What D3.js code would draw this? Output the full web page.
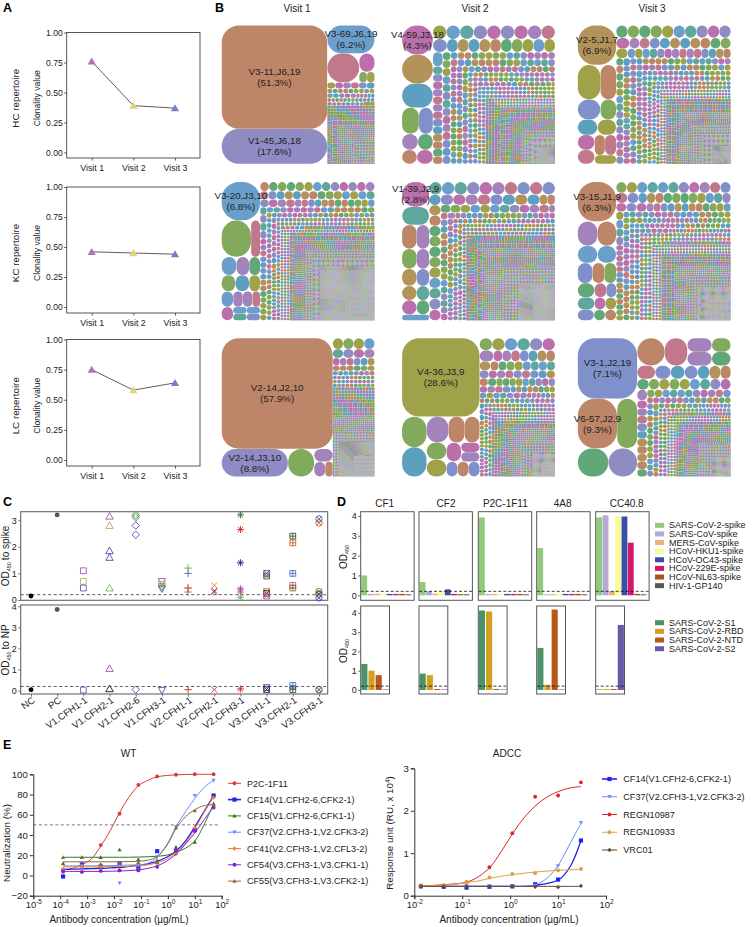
<!DOCTYPE html>
<html><head><meta charset="utf-8">
<script src="https://cdn.jsdelivr.net/npm/d3@7/dist/d3.min.js"></script>
<style>html,body{margin:0;padding:0;background:#fff}svg{display:block;font-family:"Liberation Sans",Arial,sans-serif}text{fill:#222}</style>
</head><body><svg id="c" width="755" height="927"></svg>
<script>
/* ---------- A ---------- */
const visits=["Visit 1","Visit 2","Visit 3"];
const hcClonality=[0.76,0.39,0.37];
const kcClonality=[0.46,0.45,0.44];
const lcClonality=[0.75,0.58,0.64];
const repertoireNames=["HC repertoire","KC repertoire","LC repertoire"];
const visitColors=["#BB6FB0","#E3D478","#6F80C8"];
const clonalityTicks=[0,0.25,0.5,0.75,1];
/* ---------- B : cell areas (px² on a 153×138.5 tile) ---------- */
const headV1HC=[[10918,3710],1316,[928,[285,[80,80]]]];
const tailV1HC=[[49,6],[25,14],[16,25],[9,70],[6.25,120],[4,220],[2.25,220]];
const headV2HC=[[899,899,744,[442,364],[256,240],[210,224]]];
const tailV2HC=[[182,10],[140,11],[72,13],[64,14],[49,30],[36,60],[25,80],[16,90],[9,150],[6.25,200],[4,200],[2.25,200],[1.5,250],[1,300]];
const headV3HC=[[1521,[782,544],[460,320],[300,285],[[255,238],[[209,228],192]]]];
const tailV3HC=[[130,11],[100,11],[64,14],[49,15],[36,65],[25,70],[16,90],[9,130],[6.25,200],[4,250],[2.25,300],[1.5,300],[1,308]];
const headV1KC=[[1482,[1073,333],[270,234,198],[224,224,176],[180,150,150,120],[156,[[91,91],[91,91]]]]];
const tailV1KC=[[76,13],[64,18],[49,16],[36,30],[25,50],[16,90],[9,150],[6.25,180],[4,300],[2.25,500],[1.5,500],[1,2000],[0.6,1400]];
const headV2KC=[[676,494,[350,300],[294,252],[252,216],[210,180],[210,180]]];
const tailV2KC=[[168,11],[126,10],[132,10],[81,13],[49,18],[36,30],[25,60],[16,100],[9,150],[6.25,200],[4,600],[2.25,700],[1,1400]];
const headV3KC=[[1521,[480,456],[340,323],[300,240,240],[238,168,140],[204,132,132],[176,121,121]]];
const tailV3KC=[[108,13],[81,14],[56,16],[36,50],[25,80],[16,120],[9,170],[6.25,200],[4,300],[2.25,400],[1.2,500],[0.7,600]];
const headV1LC=[[12290,[1848,728,[240,[165,112]]]]];
const tailV1LC=[[112,4],[90,4],[52,6],[36,6],[25,8],[16,30],[9,60],[6.25,100],[4,150],[2.25,300],[1,800],[0.6,700]];
const headV2LC=[[6084,[[750,725],[[572,416,390],[[340,340],[[276,[176,176]],[165,165,165]]]]]]];
const tailV2LC=[[150,7],[94,8],[70,9],[64,10],[50,13],[36,15],[25,25],[16,80],[9,130],[6.25,100],[4,250],[2.25,300],[1.2,300],[0.6,300]];
const headV3LC=[[3600,[1960,1000],[868,812]],[756,616,[336,336],[259,259]]];
const tailV3LC=[[232,1],[200,1],[180,1],[170,1],[150,1],[145,1],[130,1],[120,1],[105,9],[72,10],[56,11],[36,28],[25,20],[16,60],[9,130],[6.25,120],[4,250],[2.25,300],[1.2,300]];
const cloneColors={br:"#BD8668",pu:"#8F8CC4",bl:"#6A9FCC",pk:"#C2788C",mg:"#BB70AC",gr:"#82AA5C",ta:"#B3935A",te:"#5DA79C",sg:"#60A878",pe:"#7F90CA",tb:"#5C9FBE",ol:"#A0A24A",vi:"#A482BC"};
const tailPalette=["#60A878","#C2788C","#6A9FCC","#B3935A","#BB70AC","#82AA5C","#7F90CA","#5DA79C","#BD8668","#A482BC","#A0A24A","#5C9FBE","#8F8CC4"];
const headColors=[
 ["br","pu","bl","pk","mg","gr","ol","ol"],
 ["mg","ta","tb","gr","pe","vi","sg","br","mg"],
 ["ta","ol","br","pe","gr","tb","ol","mg","pk","br","pk","ol"],
 ["bl","gr","pk","bl","vi","sg","gr","tb","ol","bl","vi","vi","pk","mg","bl","bl","te","pe"],
 ["mg","te","br","vi","gr","vi","ta","pe","ta","te","mg","sg"],
 ["br","vi","br","bl","bl","pe","br","gr","sg","pk","pe","te","mg","ol","pe","sg","br"],
 ["br","pu","gr","vi","vi","br"],
 ["ol","gr","tb","vi","br","br","gr","ol","mg","mg","vi","pe","br","pe"],
 ["pe","br","gr","sg","pu","br","pk","vi","vi","gr","sg"]
];
const treemapPanels=[[headV1HC,tailV1HC],[headV2HC,tailV2HC],[headV3HC,tailV3HC],[headV1KC,tailV1KC],[headV2KC,tailV2KC],[headV3KC,tailV3KC],[headV1LC,tailV1LC],[headV2LC,tailV2LC],[headV3LC,tailV3LC]];
const cloneLabels=[
 [[0,"V3-11,J6,19","(51.3%)"],[1,"V1-45,J6,18","(17.6%)"],[2,"V3-69,J6,19","(6.2%)"]],
 [[0,"V4-59,J3,18","(4.3%)"]],
 [[0,"V2-5,J1,7","(6.9%)"]],
 [[0,"V3-20,J3,10","(6.8%)"]],
 [[0,"V1-39,J2,9","(2.8%)"]],
 [[0,"V3-15,J1,9","(6.3%)"]],
 [[0,"V2-14,J2,10","(57.9%)"],[1,"V2-14,J3,10","(8.8%)"]],
 [[0,"V4-36,J3,9","(28.6%)"]],
 [[0,"V3-1,J2,19","(7.1%)"],[1,"V6-57,J2,9","(9.3%)"]]
];
/* ---------- C ---------- */
const elisaSamples=["NC","PC","V1.CFH1-1","V1.CFH2-1","V1.CFH2-6","V1.CFH3-1","V2.CFH1-1","V2.CFH2-1","V2.CFH3-1","V3.CFH1-1","V3.CFH2-1","V3.CFH3-1"];
const elisaShapes=["dot","dot","square","tri","diamond","inv","plus","cross","star","boxx","boxplus","circx"];
const spikeOD=[
 [[0.15,"#000"]],
 [[3.2,"#555"]],
 [[1.1,"#A24DB5"],[0.7,"#A5B545"],[0.45,"#4A55C0"]],
 [[3.15,"#9B4DB0"],[2.8,"#A5B030"],[1.85,"#3A3AA8"],[1.6,"#5040B0"],[0.45,"#70B050"]],
 [[3.22,"#A8B030"],[3.17,"#50A050"],[3.1,"#3A8A8A"],[2.8,"#5A3AA8"],[2.45,"#4A3AB0"]],
 [[0.7,"#9B4DB0"],[0.6,"#A5B030"],[0.5,"#50A050"],[0.42,"#3A3AA8"]],
 [[1.2,"#50A050"],[1.0,"#5A50C0"],[0.45,"#D02020"],[0.45,"#C88020"],[0.3,"#B050B0"]],
 [[0.55,"#C88020"],[0.35,"#D02020"],[0.3,"#7030A0"]],
 [[3.2,"#2A6A20"],[2.65,"#D02020"],[1.4,"#3A0A90"],[0.42,"#7A40C0"],[0.3,"#D04060"],[0.1,"#60B060"]],
 [[1.0,"#3A50C0"],[0.9,"#555520"],[0.32,"#D07020"],[0.25,"#333"],[0.15,"#C050A0"]],
 [[2.4,"#2A4A20"],[2.15,"#C06020"],[1.0,"#4A60D0"],[0.55,"#C050A0"],[0.45,"#887020"]],
 [[3.05,"#3A50C0"],[2.9,"#C06020"],[0.32,"#887020"],[0.22,"#333"],[0.08,"#3A50C0"]]
];
const npOD=[
 [[0.05,"#000"]],
 [[3.85,"#555"]],
 [[0.03,"#4A55C0"]],
 [[1.05,"#9B4DB0"],[0.08,"#70B050"],[0.1,"#2A3A60"]],
 [[0.05,"#5A3AA8"]],
 [[0.02,"#5A3AA8"]],
 [[0.05,"#D02020"]],
 [[0.05,"#C02040"]],
 [[0.08,"#D02020"]],
 [[0.15,"#3A50C0"],[0.05,"#333"]],
 [[0.25,"#4A60D0"],[0.05,"#2A4A20"]],
 [[0.05,"#333"]]
];
/* ---------- D ---------- */
const odAntibodies=["CF1","CF2","P2C-1F11","4A8","CC40.8"];
const spikeAntigens=["SARS-CoV-2-spike","SARS-CoV-spike","MERS-CoV-spike","HCoV-HKU1-spike","HCoV-OC43-spike","HCoV-229E-spike","HCoV-NL63-spike","HIV-1-GP140"];
const spikeAntigenColors=["#8FCB78","#B3A9D4","#EFB27A","#FBFB96","#3A50A8","#D0186F","#A85518","#595959"];
const spikePanelValues=[
 [1.0,0.07,0.08,0.07,0.07,0.07,0.07,0.05],
 [0.67,0.2,0.08,0.2,0.3,0.07,0.06,0.05],
 [3.92,0.07,0.07,0.07,0.07,0.07,0.07,0.05],
 [2.38,0.05,0.06,0.06,0.07,0.07,0.07,0.05],
 [3.93,4.03,0.2,4.0,3.97,2.65,0.07,0.05]
];
const domainAntigens=["SARS-CoV-2-S1","SARS-CoV-2-RBD","SARS-CoV-2-NTD","SARS-CoV-2-S2"];
const domainAntigenColors=["#4C9268","#D1A020","#B85818","#6B58A8"];
const domainPanelValues=[
 [1.35,1.0,0.77,0.03],
 [0.85,0.77,0.05,0.03],
 [4.12,4.07,0.05,0.03],
 [2.18,0.27,4.17,0.03],
 [0.03,0.05,0.05,3.37]
];
/* ---------- E ---------- */
const wtConc=[0.000128,0.00064,0.0032,0.016,0.08,0.4,2,10,50];
const wtCurveConc=[0.000126,0.00028,0.00063,0.0014,0.0032,0.0071,0.016,0.035,0.079,0.18,0.4,0.89,2,4.5,10,22,50];
const wtNames=["P2C-1F11","CF14(V1.CFH2-6,CFK2-1)","CF15(V1.CFH2-6,CFK1-1)","CF37(V2.CFH3-1,V2.CFK3-2)","CF41(V2.CFH3-1,V2.CFL3-2)","CF54(V3.CFH3-1,V3.CFK1-1)","CF55(V3.CFH3-1,V3.CFK2-1)"];
const wtColors=["#D93A3A","#2222F0","#2F7A20","#6A8CFF","#F08428","#8022D0","#8F6840"];
const wtSymbols=["dot","square","tri","inv","diamond","dotS","tri"];
const wtPoints=[
 [6,9,30,61,89.5,98,99.5,100,100],
 [-1,11,9,12,7.5,24,24,45,79],
 [12,18,18,25.5,16,15,28,33,71],
 [3,10,10,-7.5,10,18,48,79,94],
 [6,8.5,8.5,5,5.5,12,21,47,77],
 [4,3.5,4.5,5,5,8.5,25,44,67],
 [18,18,11,12,13,13,47,64,70]
];
const wtCurves=[
 [5.5,7,10.5,16,29,44,62,77,88.5,94,97.5,98.8,99.5,99.8,100,100,100],
 [6,6.2,6.5,6.8,7,7.5,8,9,10,11.5,14,18,24,34,48,63,79],
 [18,18,18,18,18,18,18,18,18.2,18.5,19,20,23,27,34,50,71],
 [9.5,9.5,9.5,9.5,9.6,9.7,10,10.3,10.6,12,18,30,48,63,76,87,94],
 [8.5,8.5,8.5,8.5,8.6,8.7,8.8,9,9.5,10.5,12.5,16,22,32,46,62,78],
 [4,4,4,4,4,4.2,4.4,4.8,5.5,7,9.5,14,21,31,42,55,68],
 [13.5,13.5,13.5,13.5,13.5,13.5,13.6,13.7,14,15,19,29,46,58,65,69,70]
];
const adccConc=[0.0137,0.041,0.123,0.37,1.11,3.33,10,30];
const adccCurveConc=[0.0138,0.024,0.042,0.072,0.126,0.22,0.38,0.66,1.15,2,3.47,6,10.5,18.2,30];
const adccNames=["CF14(V1.CFH2-6,CFK2-1)","CF37(V2.CFH3-1,V2.CFK3-2)","REGN10987","REGN10933","VRC01"];
const adccColors=["#2222F0","#6A8CFF","#DD2626","#E0A040","#6B4A2A"];
const adccSymbols=["square","inv","dot","dot","diamond"];
const adccPoints=[
 [0.22,0.21,0.19,0.21,0.22,0.27,0.38,1.3],
 [0.24,0.22,0.23,0.22,0.22,0.24,0.7,1.72],
 [0.23,0.24,0.32,0.67,1.47,2.33,2.36,2.67],
 [0.23,0.25,0.31,0.43,0.51,0.53,0.6,0.63],
 [0.22,0.22,0.22,0.22,0.22,0.21,0.2,0.23]
];
const adccCurves=[
 [0.22,0.22,0.22,0.22,0.22,0.22,0.22,0.22,0.22,0.22,0.25,0.29,0.38,0.7,1.3],
 [0.22,0.22,0.22,0.22,0.22,0.22,0.22,0.22,0.22,0.22,0.26,0.42,0.75,1.25,1.7],
 [0.23,0.24,0.26,0.28,0.32,0.45,0.67,1.05,1.48,1.85,2.13,2.33,2.46,2.54,2.57],
 [0.23,0.24,0.25,0.27,0.31,0.35,0.41,0.46,0.5,0.53,0.56,0.58,0.6,0.61,0.62],
 [0.22,0.22,0.22,0.22,0.22,0.22,0.22,0.22,0.22,0.22,0.22,0.22,0.22,0.22,0.22]
];

/* ---------- helpers ---------- */
const svg=d3.select("#c");
const INK="#444";
function txt(g,x,y,s,size,opt={}){
 const t=g.append("text").attr("x",x).attr("y",y).attr("font-size",size).text(s);
 if(opt.anchor)t.attr("text-anchor",opt.anchor);
 if(opt.weight)t.attr("font-weight",opt.weight);
 if(opt.rotate!==undefined)t.attr("transform",`rotate(${opt.rotate},${x},${y})`);
 return t;
}
function odLabel(g,x,y,suffix,size){
 const t=g.append("text").attr("transform",`translate(${x},${y}) rotate(-90)`).attr("text-anchor","middle").attr("font-size",size);
 t.append("tspan").text("OD");
 t.append("tspan").attr("font-size",size*0.55).attr("dy",2).text("450");
 if(suffix)t.append("tspan").attr("dy",-2).attr("dx",2).text(suffix);
}
function styleAxis(sel,w=0.9,color=INK){
 sel.select(".domain").attr("stroke",color).attr("stroke-width",w);
 sel.selectAll(".tick line").attr("stroke",color).attr("stroke-width",w);
 sel.selectAll(".tick text").attr("fill","#222");
 return sel;
}
const shapeTypes={
 tri:{draw(c,s){const r=Math.sqrt(s)/2;c.moveTo(0,-r*1.05);c.lineTo(r*1.1,r*0.85);c.lineTo(-r*1.1,r*0.85);c.closePath();}},
 inv:{draw(c,s){const r=Math.sqrt(s)/2;c.moveTo(0,r*1.05);c.lineTo(r*1.1,-r*0.85);c.lineTo(-r*1.1,-r*0.85);c.closePath();}},
 square:{draw(c,s){const r=Math.sqrt(s)/2*0.85;c.rect(-r,-r,2*r,2*r);}},
 diamond:{draw(c,s){const r=Math.sqrt(s)/2*1.1;c.moveTo(0,-r);c.lineTo(r,0);c.lineTo(0,r);c.lineTo(-r,0);c.closePath();}},
 plus:{draw(c,s){const r=Math.sqrt(s)/2*1.1;c.moveTo(-r,0);c.lineTo(r,0);c.moveTo(0,-r);c.lineTo(0,r);}},
 cross:{draw(c,s){const r=Math.sqrt(s)/2*0.85;c.moveTo(-r,-r);c.lineTo(r,r);c.moveTo(-r,r);c.lineTo(r,-r);}},
 star:{draw(c,s){const r=Math.sqrt(s)/2*1.05,q=r*0.72;c.moveTo(-r,0);c.lineTo(r,0);c.moveTo(0,-r);c.lineTo(0,r);c.moveTo(-q,-q);c.lineTo(q,q);c.moveTo(-q,q);c.lineTo(q,-q);}},
 boxplus:{draw(c,s){const r=Math.sqrt(s)/2*0.85;c.rect(-r,-r,2*r,2*r);c.moveTo(-r,0);c.lineTo(r,0);c.moveTo(0,-r);c.lineTo(0,r);}},
 boxx:{draw(c,s){const r=Math.sqrt(s)/2*0.85;c.rect(-r,-r,2*r,2*r);c.moveTo(-r,-r);c.lineTo(r,r);c.moveTo(-r,r);c.lineTo(r,-r);}},
 circx:{draw(c,s){const r=Math.sqrt(s)/2*0.95,q=r*0.7;c.moveTo(r,0);c.arc(0,0,r,0,2*Math.PI);c.moveTo(-q,-q);c.lineTo(q,q);c.moveTo(-q,q);c.lineTo(q,-q);}},
 dot:{draw(c,s){const r=Math.sqrt(s)/2;c.moveTo(r,0);c.arc(0,0,r,0,2*Math.PI);}}
};
const sym=(k,s)=>d3.symbol().type(shapeTypes[k==="dotS"?"dot":k]).size(s)();

/* ---------- panel letters ---------- */
[["A",3,12],["B",215,12],["C",3,506],["D",337,506],["E",3,749]].forEach(([l,x,y])=>txt(svg,x,y,l,12.5,{weight:"bold"}).style("fill","#000"));

/* ---------- A ---------- */
[[32.5,152.5,158,hcClonality],[187,307,313,kcClonality],[339.5,460,466,lcClonality]].forEach(([top,zero,bottom,vals],k)=>{
 const g=svg.append("g");
 const x=d3.scalePoint().domain(visits).range([91.7,175]);
 const y=d3.scaleLinear().domain([0,1]).range([zero,top]);
 g.append("rect").attr("x",66.7).attr("y",top).attr("width",133.3).attr("height",bottom-top).attr("fill","none").attr("stroke",INK).attr("stroke-width",0.9);
 const ax=g.append("g").attr("transform",`translate(66.7,0)`).call(d3.axisLeft(y).tickValues(clonalityTicks).tickFormat(d3.format(".2f")).tickSize(2.5).tickPadding(1.5));
 styleAxis(ax);ax.select(".domain").attr("stroke","none");ax.selectAll("text").attr("font-size",8.6).attr("font-family",null);
 const bx=g.append("g").attr("transform",`translate(0,${bottom})`).call(d3.axisBottom(x).tickSize(2.5).tickPadding(4));
 styleAxis(bx);bx.select(".domain").attr("stroke","none");bx.selectAll("text").attr("font-size",8.8).attr("font-family",null);
 g.append("path").datum(vals).attr("fill","none").attr("stroke","#333").attr("stroke-width",0.8)
  .attr("d",d3.line().x((d,i)=>x(visits[i])).y(d=>y(d)));
 g.selectAll(".m").data(vals).join("path").attr("d",sym("tri",55)).attr("transform",(d,i)=>`translate(${x(visits[i])},${y(d)})`).attr("fill",(d,i)=>visitColors[i]);
 txt(g,19,(top+bottom)/2+3,repertoireNames[k],9.8,{anchor:"middle",rotate:-90});
 txt(g,40,(top+bottom)/2+3,"Clonality value",8.6,{anchor:"middle",rotate:-90});
});

/* ---------- B ---------- */
const colX=[221.6,402,577.7],rowY=[25.5,182,338.2];
const tileW=153,tileH=138.4;
visits.forEach((v,i)=>txt(svg,[297,475,652][i],12,v,10,{anchor:"middle"}));
const expand=t=>t.flatMap(([a,n])=>d3.range(n).map(()=>a));
/* the root is squarified; nested head groups alternate between stacked rows and side-by-side cells */
const squarify=d3.treemapSquarify.ratio(1);
function headTile(node,x0,y0,x1,y1){
 if(node.depth===0)return squarify(node,x0,y0,x1,y1);
 let top=node;while(top.depth>1)top=top.parent;
 const firstColumn=top===top.parent.children[0];
 const stacked=(node.depth%2===1)===firstColumn;
 return (stacked?d3.treemapSlice:d3.treemapDice)(node,x0,y0,x1,y1);
}
treemapPanels.forEach(([head,tail],p)=>{
 const headRoot=d3.hierarchy({c:head},d=>d.c?d.c:(Array.isArray(d)?d:null)).sum(d=>typeof d==="number"?d:0);
 const tailList=expand(tail);
 const fit=(tileW*tileH-headRoot.value)/d3.sum(tailList);   /* the tail fills what the head cells leave free */
 const data=[...head,...tailList.map(a=>a*fit)];
 const root=d3.hierarchy(data,d=>Array.isArray(d)?d:null).sum(d=>typeof d==="number"?d:0);
 d3.treemap().tile(headTile).size([tileW,tileH])(root);
 const leaves=root.leaves();
 const g=svg.append("g").attr("transform",`translate(${colX[p%3]},${rowY[Math.floor(p/3)]})`);
 const hc=headColors[p];
 const side=d=>Math.min(d.x1-d.x0,d.y1-d.y0);
 const inset=d=>side(d)<3?0:0.12;
 g.selectAll("rect").data(leaves).join("rect")
  .attr("x",d=>d.x0+inset(d)).attr("y",d=>d.y0+inset(d))
  .attr("width",d=>d.x1-d.x0-2*inset(d)).attr("height",d=>d.y1-d.y0-2*inset(d))
  .attr("rx",d=>side(d)<3?side(d)*0.22:Math.min(side(d),34)/2)
  .attr("fill",(d,i)=>i<hc.length?cloneColors[hc[i]]:tailPalette[(i*5+Math.floor(i/7)*3+p)%tailPalette.length]);
 cloneLabels[p].forEach(([idx,a,b])=>{
  const d=leaves[idx],cx=(d.x0+d.x1)/2,cy=(d.y0+d.y1)/2;
  txt(g,cx,cy-2,a,9.8,{anchor:"middle"});
  txt(g,cx,cy+9,b,9.8,{anchor:"middle"});
 });
});

/* ---------- C ---------- */
const xC=d3.scalePoint().domain(elisaSamples).range([31,319]);
function elisaPanel(vals,top,bottom,y0,yUnit,ticks,label,lblY){
 const g=svg.append("g");
 const y=d3.scaleLinear().domain([0,1]).range([y0,y0-yUnit]);
 g.append("rect").attr("x",20.7).attr("y",top).attr("width",307).attr("height",bottom-top).attr("fill","none").attr("stroke","#666").attr("stroke-width",1.1);
 const ax=g.append("g").attr("transform","translate(20.7,0)").call(d3.axisLeft(y).tickValues(ticks).tickFormat(d3.format("d")).tickSize(2.5).tickPadding(1.5));
 styleAxis(ax,0.9,"#666");ax.select(".domain").attr("stroke","none");ax.selectAll("text").attr("font-size",9).attr("font-family",null);
 g.append("line").attr("x1",20.7).attr("x2",327.7).attr("y1",y(0.2)).attr("y2",y(0.2)).attr("stroke","#333").attr("stroke-width",0.8).attr("stroke-dasharray","3,2.5");
 vals.forEach((pts,i)=>{
  const cat=elisaSamples[i],sh=elisaShapes[i];
  g.selectAll(null).data(pts).join("path")
   .attr("d",sym(sh,sh==="dot"?24:46))
   .attr("transform",d=>`translate(${xC(cat)},${y(d[0])})`)
   .attr("fill",sh==="dot"?d=>d[1]:"none").attr("stroke",sh==="dot"?"none":d=>d[1]).attr("stroke-width",0.85);
 });
 odLabel(g,9,lblY,label,10);
 return g;
}
elisaPanel(spikeOD,511.7,600.3,600,26.6,[0,1,2,3],"to spike",556);
const gNP=elisaPanel(npOD,605,694,690.7,21.1,[0,1,2,3,4],"to NP",650);
const cx=gNP.append("g").attr("transform","translate(0,694)").call(d3.axisBottom(xC).tickSize(2.5).tickPadding(1));
styleAxis(cx,0.9,"#666");cx.select(".domain").attr("stroke","none");
cx.selectAll("text").attr("font-size",9.6).attr("font-family",null).attr("text-anchor","end").attr("dy","0.55em").attr("transform","rotate(-35) translate(-1,0)");

/* ---------- D ---------- */
const dLeft=[360.7,419,478.3,536.7,595.7];
odAntibodies.forEach((n,i)=>txt(svg,dLeft[i]+[24,27,27,26,31][i],507,n,10,{anchor:"middle"}));
function barRow(values,keys,colors,top,bottom,y0,unit,step,w,frameW){
 const y=d3.scaleLinear().domain([0,1]).range([y0,y0-unit]);
 values.forEach((vals,i)=>{
  const g=svg.append("g");
  const L=dLeft[i];
  const x=d3.scaleBand().domain(keys).range([L+0.6,L+0.6+step*keys.length]).paddingInner(1-w/step).paddingOuter(0);
  g.selectAll("rect").data(vals).join("rect").attr("x",(d,k)=>x(keys[k])).attr("width",x.bandwidth())
   .attr("y",d=>y(d)).attr("height",d=>y(0)-y(d)).attr("fill",(d,k)=>colors[k]);
  g.append("line").attr("x1",L).attr("x2",L+frameW).attr("y1",y(0.2)).attr("y2",y(0.2)).attr("stroke","#111").attr("stroke-width",0.8).attr("stroke-dasharray","3,2");
  g.append("rect").attr("x",L).attr("y",top).attr("width",frameW).attr("height",bottom-top).attr("fill","none").attr("stroke","#555").attr("stroke-width",1);
  if(i===0){
   const ax=g.append("g").attr("transform",`translate(${L},0)`).call(d3.axisLeft(y).tickValues([0,1,2,3,4]).tickFormat(d3.format("d")).tickSize(2.5).tickPadding(1.5));
   styleAxis(ax,0.9,"#555");ax.select(".domain").attr("stroke","none");ax.selectAll("text").attr("font-size",9).attr("font-family",null);
  }
 });
 odLabel(svg,347,(top+bottom)/2+1,"",10);
}
barRow(spikePanelValues,spikeAntigens,spikeAntigenColors,511.7,600.3,595.3,19.85,6.25,5.8,53.4);
barRow(domainPanelValues,domainAntigens,domainAntigenColors,606,694,690,19.3,6.9,5.9,28.8);
function swatches(names,colors,y0,step){
 names.forEach((n,i)=>{
  svg.append("rect").attr("x",655).attr("y",y0+i*step-2.5).attr("width",9).attr("height",5).attr("fill",colors[i]);
  txt(svg,669,y0+i*step+3,n,9);
 });
}
swatches(spikeAntigens,spikeAntigenColors,525.3,8.62);
swatches(domainAntigens,domainAntigenColors,622.7,8.67);

/* ---------- E ---------- */
function supTicks(sel){
 sel.selectAll(".tick text").each(function(d){
  const t=d3.select(this).text(null);
  t.append("tspan").text("10");
  t.append("tspan").attr("font-size",6.5).attr("dy",-3.5).text(String(Math.round(Math.log10(d))));
 });
}
const symSize=s=>s==="square"?24:15;
function doseChart(o){
 const g=svg.append("g");
 const x=d3.scaleLog().domain(o.xd).range(o.xr),y=d3.scaleLinear().domain(o.yd).range(o.yr);
 const ay=g.append("g").attr("transform",`translate(${o.xr[0]},0)`).call(d3.axisLeft(y).tickValues(o.yt).tickFormat(d3.format("d")).tickSize(3.5).tickPadding(2));
 styleAxis(ay,1,"#333");ay.selectAll("text").attr("font-size",9.6).attr("font-family",null);
 const ax=g.append("g").attr("transform",`translate(0,${o.yr[0]})`).call(d3.axisBottom(x).tickValues(o.xt).tickSize(3.5).tickPadding(2));
 styleAxis(ax,1,"#333");ax.selectAll("text").attr("font-size",9.4).attr("font-family",null);
 supTicks(ax);
 if(o.dash!==undefined)g.append("line").attr("x1",o.xr[0]).attr("x2",x(80)).attr("y1",y(o.dash)).attr("y2",y(o.dash)).attr("stroke","#555").attr("stroke-width",0.8).attr("stroke-dasharray","3,2.5");
 const line=d3.line().x((d,i)=>x(o.curveX[i])).y(d=>y(d)).curve(d3.curveCatmullRom.alpha(0.5));
 o.curves.forEach((c,k)=>{
  g.append("path").datum(c).attr("fill","none").attr("stroke",o.colors[k]).attr("stroke-width",o.colors[k]==="#2222F0"?1.3:1).attr("d",line);
  g.selectAll(null).data(o.points[k]).join("path").attr("d",sym(o.syms[k],symSize(o.syms[k])))
   .attr("transform",(d,i)=>`translate(${x(o.ptX[i])},${y(d)})`).attr("fill",o.colors[k]);
  const ly=o.ly0+k*o.lstep;
  g.append("line").attr("x1",o.lx[0]).attr("x2",o.lx[1]).attr("y1",ly).attr("y2",ly).attr("stroke",o.colors[k]).attr("stroke-width",o.colors[k]==="#2222F0"?1.6:1);
  g.append("path").attr("d",sym(o.syms[k],symSize(o.syms[k]))).attr("transform",`translate(${(o.lx[0]+o.lx[1])/2},${ly})`).attr("fill",o.colors[k]);
  txt(g,o.lx[2],ly+3.2,o.names[k],9.1);
 });
 txt(g,o.tx,757,o.title,10,{anchor:"middle"});
 txt(g,o.xlx,923,"Antibody concentration (µg/mL)",10,{anchor:"middle"});
 const yl=g.append("text").attr("transform",`translate(${o.ylx},${o.yly}) rotate(-90)`).attr("text-anchor","middle").attr("font-size",9.8);
 o.yl(yl);
}
doseChart({xd:[1e-5,100],xr:[33.3,221.7],yd:[-20,100],yr:[895.7,774.3],yt:[-20,0,20,40,60,80,100],
 xt:[1e-5,1e-4,1e-3,1e-2,1e-1,1,10,100],dash:50,curveX:wtCurveConc,curves:wtCurves,ptX:wtConc,points:wtPoints,colors:wtColors,syms:wtSymbols,names:wtNames,
 lx:[228,241,247],ly0:783.3,lstep:16.3,tx:128.5,title:"WT",xlx:119,ylx:10,yly:843,yl:t=>t.text("Neutralization (%)")});
doseChart({xd:[0.01,100],xr:[414.3,606],yd:[0,3],yr:[895.7,768.3],yt:[0,1,2,3],
 xt:[0.01,0.1,1,10,100],curveX:adccCurveConc,curves:adccCurves,ptX:adccConc,points:adccPoints,colors:adccColors,syms:adccSymbols,names:adccNames,
 lx:[602,617,623.3],ly0:779,lstep:17.75,tx:507,title:"ADCC",xlx:509,ylx:393,yly:833,
 yl:t=>{t.append("tspan").text("Response unit (RU, x 10");t.append("tspan").attr("font-size",6.5).attr("dy",-3).text("4");t.append("tspan").attr("dy",3).text(")");}});
</script></body></html>
